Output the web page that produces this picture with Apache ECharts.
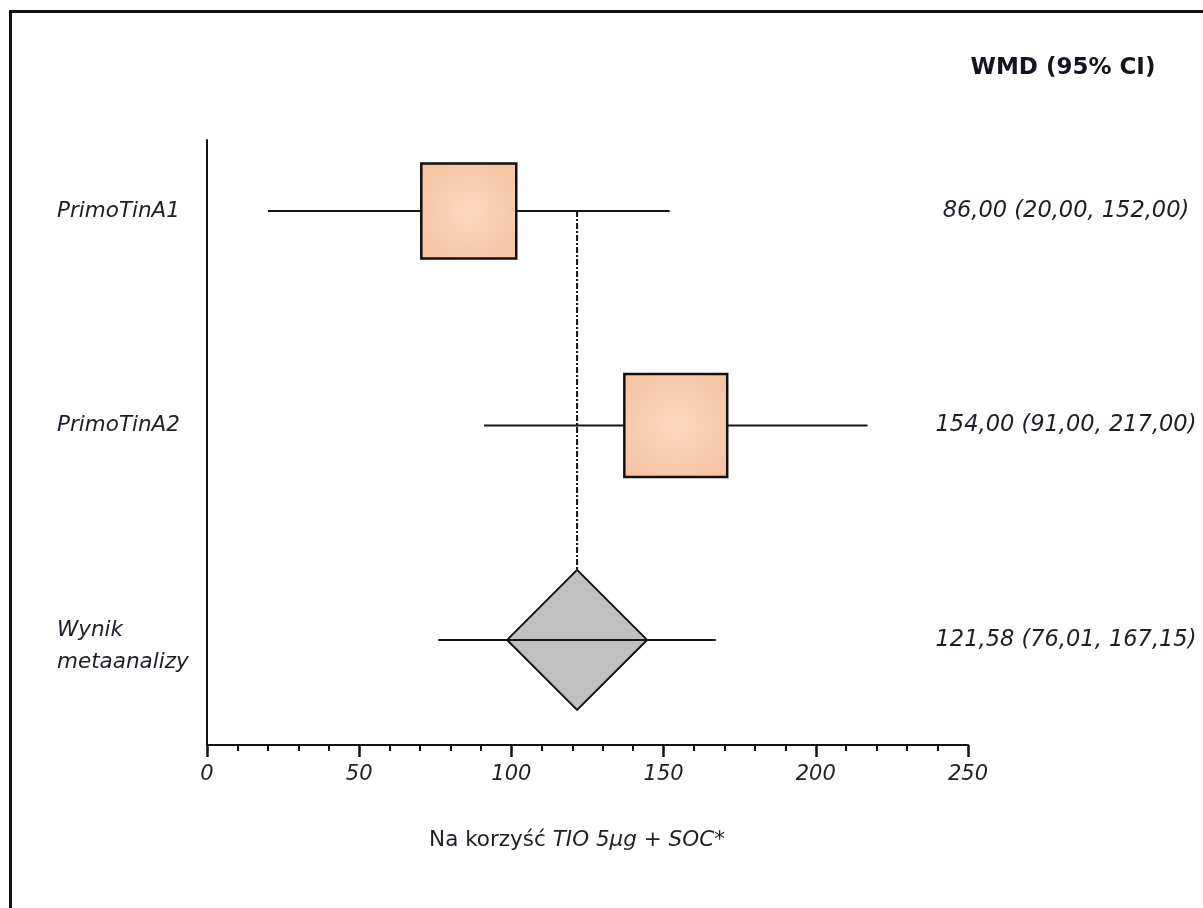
<!DOCTYPE html>
<html>
<head>
<meta charset="utf-8">
<script src="https://cdn.jsdelivr.net/npm/echarts@6/dist/echarts.min.js"></script>
<style>
  html, body { margin: 0; padding: 0; background: #ffffff; }
  #chart { width: 1203px; height: 908px; }
</style>
</head>
<body>
<div id="chart"></div>
<script>
// Study rows (top to bottom)
const studies = ['PrimoTinA1', 'PrimoTinA2', 'Wynik\nmetaanalizy'];
const estimates = [86.00, 154.00, 121.58];
const ciLower = [20.00, 91.00, 76.01];
const ciUpper = [152.00, 217.00, 167.15];
// Weights (%) of the individual studies; the pooled row is 100
const weights = [46, 54, 100];
const isPooled = [false, false, true];
const xTicks = [0, 50, 100, 150, 200, 250];
const headerText = 'WMD (95% CI)';

const FONT = 'DejaVu Sans, Verdana, sans-serif';
const TEXT = '#1d1d2c';
const SIDE_PER_SQRT_WEIGHT = 14; // marker size scale in px

const fmt = v => v.toFixed(2).replace('.', ',');
const rows = studies.map((name, i) => ({
  name, i, est: estimates[i], lo: ciLower[i], hi: ciUpper[i], w: weights[i], pooled: isPooled[i]
}));
const pooledRow = rows.find(r => r.pooled);

const chart = echarts.init(document.getElementById('chart'), null, { renderer: 'canvas' });

const option = {
  backgroundColor: '#ffffff',
  animation: false,
  grid: { left: 207, top: 140, width: 761, height: 605, containLabel: false },
  xAxis: {
    type: 'value',
    min: xTicks[0],
    max: xTicks[xTicks.length - 1],
    interval: xTicks[1] - xTicks[0],
    splitLine: { show: false },
    axisLine: { show: true, onZero: false, lineStyle: { color: '#111', width: 2 } },
    axisTick: { show: true, length: 12, lineStyle: { color: '#111', width: 2.5 } },
    minorTick: { show: true, splitNumber: 5, length: 6, lineStyle: { color: '#111', width: 2 } },
    axisLabel: {
      show: true, margin: 19, color: TEXT, fontFamily: FONT, fontStyle: 'italic', fontSize: 21
    }
  },
  yAxis: {
    type: 'value',
    inverse: true,
    min: -0.331,
    max: 2.49,
    axisLine: { show: true, onZero: false, lineStyle: { color: '#111', width: 2 } },
    axisTick: { show: false },
    axisLabel: { show: false },
    splitLine: { show: false }
  },
  series: [
    // pooled diamond
    {
      type: 'custom',
      z: 2,
      data: rows.filter(r => r.pooled).map(r => [r.est, r.i, r.w]),
      renderItem: (params, api) => {
        const c = api.coord([api.value(0), api.value(1)]);
        const h = SIDE_PER_SQRT_WEIGHT * Math.sqrt(api.value(2)) / 2;
        return {
          type: 'polygon',
          shape: { points: [[c[0], c[1] - h], [c[0] + h, c[1]], [c[0], c[1] + h], [c[0] - h, c[1]]] },
          style: { fill: '#c0c0c0', stroke: '#111', lineWidth: 2 }
        };
      }
    },
    // reference line at the pooled estimate, down to the diamond's top
    {
      type: 'custom',
      z: 3,
      data: [[pooledRow.est, rows[0].i, pooledRow.i, pooledRow.w]],
      renderItem: (params, api) => {
        const a = api.coord([api.value(0), api.value(1)]);
        const b = api.coord([api.value(0), api.value(2)]);
        const h = SIDE_PER_SQRT_WEIGHT * Math.sqrt(api.value(3)) / 2;
        return {
          type: 'line',
          shape: { x1: a[0], y1: a[1], x2: b[0], y2: b[1] - h },
          style: { stroke: '#111', lineWidth: 2, lineDash: [6, 2, 2, 2] }
        };
      }
    },
    // confidence intervals
    {
      type: 'custom',
      z: 4,
      data: rows.map(r => [r.lo, r.hi, r.i]),
      renderItem: (params, api) => {
        const a = api.coord([api.value(0), api.value(2)]);
        const b = api.coord([api.value(1), api.value(2)]);
        return {
          type: 'line',
          shape: { x1: a[0], y1: a[1], x2: b[0], y2: b[1] },
          style: { stroke: '#151515', lineWidth: 2 }
        };
      }
    },
    // study boxes, side proportional to sqrt(weight)
    {
      type: 'custom',
      z: 5,
      data: rows.filter(r => !r.pooled).map(r => [r.est, r.i, r.w]),
      renderItem: (params, api) => {
        const c = api.coord([api.value(0), api.value(1)]);
        const s = SIDE_PER_SQRT_WEIGHT * Math.sqrt(api.value(2));
        return {
          type: 'rect',
          shape: { x: c[0] - s / 2, y: c[1] - s / 2, width: s, height: s },
          style: {
            fill: new echarts.graphic.RadialGradient(0.5, 0.5, 0.7, [
              { offset: 0, color: '#fad6bf' },
              { offset: 1, color: '#f6c29e' }
            ]),
            stroke: '#111', lineWidth: 2.5
          }
        };
      }
    },
    // study names on the left
    {
      type: 'custom',
      z: 6,
      data: rows.map(r => [0, r.i]),
      renderItem: (params, api) => {
        const r = rows[params.dataIndex];
        const y = api.coord([0, api.value(1)])[1];
        const multi = r.name.indexOf('\n') >= 0;
        return {
          type: 'text',
          x: 57,
          y: multi ? y - 25 : y,
          style: {
            text: r.name, fill: TEXT, font: 'italic 21.5px ' + FONT,
            align: 'left', verticalAlign: multi ? 'top' : 'middle', lineHeight: 32
          }
        };
      }
    },
    // effect sizes with CI on the right
    {
      type: 'custom',
      z: 6,
      data: rows.map(r => [r.est, r.i]),
      renderItem: (params, api) => {
        const r = rows[params.dataIndex];
        const y = api.coord([0, api.value(1)])[1];
        return {
          type: 'text',
          x: 1066,
          y: y,
          style: {
            text: fmt(r.est) + ' (' + fmt(r.lo) + ', ' + fmt(r.hi) + ')',
            fill: TEXT, font: 'italic 22.5px ' + FONT, align: 'center', verticalAlign: 'middle'
          }
        };
      }
    }
  ],
  graphic: [
    {
      type: 'rect',
      shape: { x: 10.5, y: 11.5, width: 1400, height: 1100 },
      style: { fill: 'none', stroke: '#111', lineWidth: 3 },
      z: 10
    },
    {
      type: 'text',
      x: 1063, y: 68,
      style: {
        text: headerText, fill: '#141420', font: 'bold 23px ' + FONT,
        align: 'center', verticalAlign: 'middle'
      }
    },
    {
      type: 'text',
      x: 577, y: 840,
      style: {
        text: '{n|Na korzyść }{i|TIO 5µg + SOC*}',
        align: 'center', verticalAlign: 'middle',
        rich: {
          n: { fontFamily: FONT, fontSize: 21.5, fill: TEXT, color: TEXT },
          i: { fontFamily: FONT, fontSize: 21.5, fontStyle: 'italic', fill: TEXT, color: TEXT }
        }
      }
    }
  ]
};

chart.setOption(option);
</script>
</body>
</html>
